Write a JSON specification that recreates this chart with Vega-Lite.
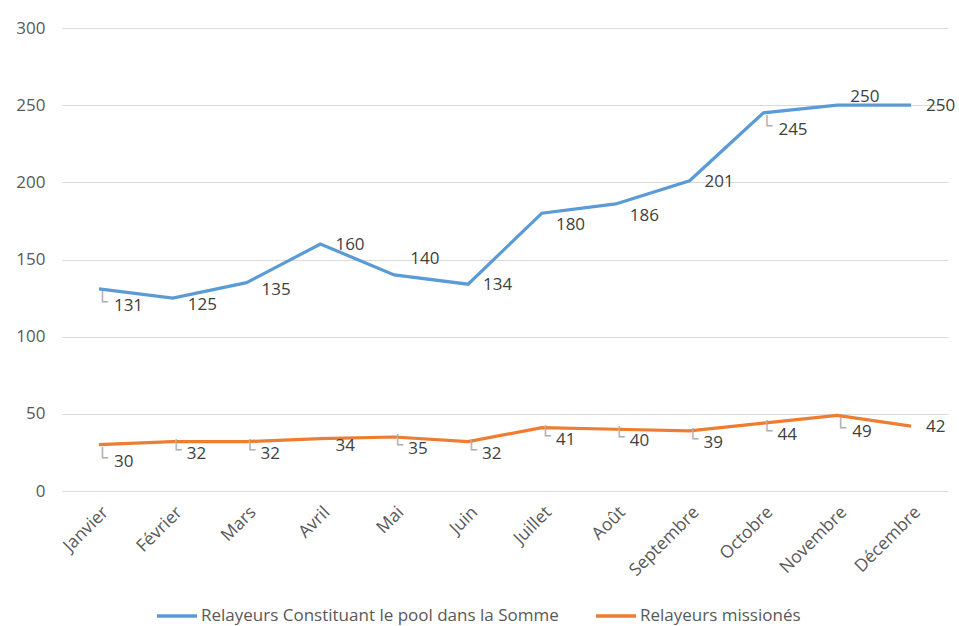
{
  "$schema": "https://vega.github.io/schema/vega-lite/v6.json",
  "autosize": "none",
  "width": 886,
  "height": 463,
  "padding": {"left": 62, "top": 28, "right": 11, "bottom": 135},
  "background": "white",
  "config": {
    "view": {"stroke": null},
    "font": "Open Sans",
    "axis": {"labelColor": "#595959", "domain": false, "ticks": false, "gridColor": "#d9d9d9", "gridWidth": 1.2}
  },
  "data": {
    "values": [
      {"mois": "Janvier", "serie": "Relayeurs Constituant le pool dans la Somme", "valeur": 131},
      {"mois": "Février", "serie": "Relayeurs Constituant le pool dans la Somme", "valeur": 125},
      {"mois": "Mars", "serie": "Relayeurs Constituant le pool dans la Somme", "valeur": 135},
      {"mois": "Avril", "serie": "Relayeurs Constituant le pool dans la Somme", "valeur": 160},
      {"mois": "Mai", "serie": "Relayeurs Constituant le pool dans la Somme", "valeur": 140},
      {"mois": "Juin", "serie": "Relayeurs Constituant le pool dans la Somme", "valeur": 134},
      {"mois": "Juillet", "serie": "Relayeurs Constituant le pool dans la Somme", "valeur": 180},
      {"mois": "Août", "serie": "Relayeurs Constituant le pool dans la Somme", "valeur": 186},
      {"mois": "Septembre", "serie": "Relayeurs Constituant le pool dans la Somme", "valeur": 201},
      {"mois": "Octobre", "serie": "Relayeurs Constituant le pool dans la Somme", "valeur": 245},
      {"mois": "Novembre", "serie": "Relayeurs Constituant le pool dans la Somme", "valeur": 250},
      {"mois": "Décembre", "serie": "Relayeurs Constituant le pool dans la Somme", "valeur": 250},
      {"mois": "Janvier", "serie": "Relayeurs missionés", "valeur": 30},
      {"mois": "Février", "serie": "Relayeurs missionés", "valeur": 32},
      {"mois": "Mars", "serie": "Relayeurs missionés", "valeur": 32},
      {"mois": "Avril", "serie": "Relayeurs missionés", "valeur": 34},
      {"mois": "Mai", "serie": "Relayeurs missionés", "valeur": 35},
      {"mois": "Juin", "serie": "Relayeurs missionés", "valeur": 32},
      {"mois": "Juillet", "serie": "Relayeurs missionés", "valeur": 41},
      {"mois": "Août", "serie": "Relayeurs missionés", "valeur": 40},
      {"mois": "Septembre", "serie": "Relayeurs missionés", "valeur": 39},
      {"mois": "Octobre", "serie": "Relayeurs missionés", "valeur": 44},
      {"mois": "Novembre", "serie": "Relayeurs missionés", "valeur": 49},
      {"mois": "Décembre", "serie": "Relayeurs missionés", "valeur": 42}
    ]
  },
  "encoding": {
    "x": {
      "field": "mois", "type": "ordinal", "sort": null,
      "scale": {"type": "point", "padding": 0.5},
      "axis": {"title": null, "labelAngle": -45, "labelPadding": 12, "labelFontSize": 17.5, "grid": false}
    },
    "y": {
      "field": "valeur", "type": "quantitative",
      "scale": {"domain": [0, 300], "nice": false},
      "axis": {"title": null, "values": [0, 50, 100, 150, 200, 250, 300], "labelPadding": 17, "labelFontSize": 17}
    }
  },
  "layer": [
    {
      "mark": {"type": "line", "strokeWidth": 3.2},
      "encoding": {
        "color": {
          "field": "serie", "type": "nominal",
          "scale": {"domain": ["Relayeurs Constituant le pool dans la Somme", "Relayeurs missionés"], "range": ["#5B9BD5", "#ED7D31"]},
          "legend": {"orient": "none", "legendX": 93, "legendY": 566, "direction": "horizontal", "title": null, "symbolType": "stroke", "symbolSize": 1600, "symbolStrokeWidth": 3.5, "labelFontSize": 17, "labelColor": "#595959", "labelLimit": 0, "columnPadding": 30, "labelOffset": 2}
        }
      }
    },
    {
      "transform": [{"filter": "(datum.valeur > 100 && (datum.mois == 'Janvier' || datum.mois == 'Octobre')) || (datum.valeur < 100 && (datum.mois == 'Janvier' || datum.mois == 'Novembre'))"}],
      "mark": {"type": "text", "align": "left", "dx": 15, "dy": 17, "fontSize": 17, "color": "#404040"},
      "encoding": {"text": {"field": "valeur"}}
    },
    {
      "transform": [{"filter": "(datum.valeur > 100 && (datum.mois == 'Janvier' || datum.mois == 'Octobre')) || (datum.valeur < 100 && (datum.mois == 'Janvier' || datum.mois == 'Novembre'))"}],
      "mark": {"type": "text", "align": "left", "baseline": "alphabetic", "dx": -2, "dy": 19, "fontSize": 18, "font": "DejaVu Sans", "color": "#b0b0b0", "text": "└"}
    },
    {
      "transform": [{"filter": "(datum.valeur > 100 && (datum.mois == 'Juillet' || datum.mois == 'Août')) || (datum.valeur < 100 && indexof(['Février','Mars','Mai','Juin','Juillet','Août','Septembre','Octobre'], datum.mois) >= 0)"}],
      "mark": {"type": "text", "align": "left", "dx": 14, "dy": 12, "fontSize": 17, "color": "#404040"},
      "encoding": {"text": {"field": "valeur"}}
    },
    {
      "transform": [{"filter": "(datum.valeur < 100 && indexof(['Février','Mars','Mai','Juin','Juillet','Août','Septembre','Octobre'], datum.mois) >= 0)"}],
      "mark": {"type": "text", "align": "left", "baseline": "alphabetic", "dx": -2, "dy": 14, "fontSize": 18, "font": "DejaVu Sans", "color": "#b0b0b0", "text": "└"}
    },
    {
      "transform": [{"filter": "(datum.valeur > 100 && (datum.mois == 'Février' || datum.mois == 'Mars')) || (datum.valeur < 100 && datum.mois == 'Avril')"}],
      "mark": {"type": "text", "align": "left", "dx": 15, "dy": 7, "fontSize": 17, "color": "#404040"},
      "encoding": {"text": {"field": "valeur"}}
    },
    {
      "transform": [{"filter": "(datum.valeur > 100 && indexof(['Avril','Juin','Septembre','Décembre'], datum.mois) >= 0) || (datum.valeur < 100 && datum.mois == 'Décembre')"}],
      "mark": {"type": "text", "align": "left", "dx": 15, "dy": 1, "fontSize": 17, "color": "#404040"},
      "encoding": {"text": {"field": "valeur"}}
    },
    {
      "transform": [{"filter": "datum.valeur > 100 && datum.mois == 'Mai'"}],
      "mark": {"type": "text", "align": "left", "dx": 16, "dy": -16, "fontSize": 17, "color": "#404040"},
      "encoding": {"text": {"field": "valeur"}}
    },
    {
      "transform": [{"filter": "datum.valeur > 100 && datum.mois == 'Novembre'"}],
      "mark": {"type": "text", "align": "left", "dx": 13, "dy": -8, "fontSize": 17, "color": "#404040"},
      "encoding": {"text": {"field": "valeur"}}
    }
  ]
}
